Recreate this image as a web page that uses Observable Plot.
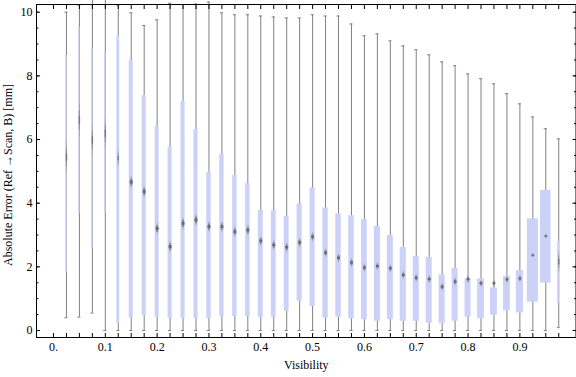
<!DOCTYPE html>
<html>
<head>
<meta charset="utf-8">
<script src="https://cdn.jsdelivr.net/npm/d3@7"></script>
<script src="https://cdn.jsdelivr.net/npm/@observablehq/plot@0.6"></script>
<style>
  html, body { margin: 0; padding: 0; background: white; }
</style>
</head>
<body>
<div id="chart"></div>
<script>
// ---- data ----
const visibility = [0.025, 0.05, 0.075, 0.1, 0.125, 0.15, 0.175, 0.2, 0.225, 0.25,
  0.275, 0.3, 0.325, 0.35, 0.375, 0.4, 0.425, 0.45, 0.475, 0.5,
  0.525, 0.55, 0.575, 0.6, 0.625, 0.65, 0.675, 0.7, 0.725, 0.75,
  0.775, 0.8, 0.825, 0.85, 0.875, 0.9, 0.925, 0.95, 0.975];
const whiskerLow = [0.40, 0.42, 0.55, 0.00, 0.00, 0.00, 0.00, 0.00, 0.00, 0.00,
  0.00, 0.00, 0.00, 0.00, 0.00, 0.00, 0.00, 0.00, 0.00, 0.00,
  0.00, 0.00, 0.00, 0.00, 0.00, 0.00, 0.00, 0.00, 0.00, 0.00,
  0.00, 0.00, 0.00, 0.00, 0.00, 0.00, 0.00, 0.00, 0.10];
const quartile1 = [1.83, 3.67, 2.57, 3.67, 0.23, 0.39, 0.47, 0.42, 0.37, 0.37,
  0.37, 0.37, 0.44, 0.44, 0.44, 0.42, 0.42, 0.60, 0.92, 0.75,
  0.39, 0.42, 0.36, 0.34, 0.29, 0.34, 0.29, 0.29, 0.23, 0.21,
  0.29, 0.42, 0.37, 0.48, 0.62, 0.55, 0.89, 1.49, 0.86];
const medianVal = [5.44, 6.60, 5.97, 6.18, 5.40, 4.65, 4.35, 3.19, 2.62, 3.35,
  3.46, 3.25, 3.25, 3.09, 3.14, 2.80, 2.67, 2.60, 2.75, 2.93,
  2.43, 2.27, 2.12, 1.96, 2.01, 1.94, 1.73, 1.64, 1.60, 1.36,
  1.52, 1.60, 1.47, 1.47, 1.59, 1.62, 2.35, 2.95, 2.15];
const quartile3 = [8.64, 9.53, 8.85, 8.69, 9.25, 8.48, 7.38, 6.41, 5.76, 7.19,
  6.31, 4.96, 5.53, 4.87, 4.61, 3.77, 3.77, 3.58, 3.98, 4.48,
  3.85, 3.67, 3.61, 3.48, 3.27, 2.98, 2.61, 2.32, 2.29, 1.75,
  1.95, 1.62, 1.62, 1.34, 1.70, 1.88, 3.51, 4.40, 2.80];
const whiskerHigh = [10.00, 10.22, 10.50, 10.50, 10.22, 9.98, 9.58, 9.76, 10.28, 10.24,
  10.26, 10.32, 9.98, 9.92, 9.92, 9.88, 9.85, 9.82, 9.82, 9.92,
  9.88, 9.88, 9.63, 9.26, 9.32, 9.10, 8.94, 8.82, 8.66, 8.44,
  8.32, 8.06, 7.91, 7.75, 7.44, 7.12, 6.71, 6.34, 6.02];
// relative sample weight (box width encodes it)
const sampleWeight = [0.4, 0.35, 0.4, 0.4, 0.7, 1.0, 1.0, 1.0, 1.0, 1.0,
  1.0, 1.1, 1.1, 1.1, 1.1, 1.2, 1.2, 1.2, 1.25, 1.25,
  1.35, 1.35, 1.35, 1.4, 1.5, 1.5, 1.5, 1.5, 1.5, 1.5,
  1.5, 1.5, 1.7, 1.7, 1.7, 1.75, 2.75, 2.6, 0.55];

const xTickValues = [0, 0.1, 0.2, 0.3, 0.4, 0.5, 0.6, 0.7, 0.8, 0.9];
const xTickLabels = ["0.", "0.1", "0.2", "0.3", "0.4", "0.5", "0.6", "0.7", "0.8", "0.9"];
const yTickValues = [0, 2, 4, 6, 8, 10];
const xLabel = "Visibility";
const yLabel = "Absolute Error (Ref \u2192Scan, B) [mm]";

// ---- derived tables ----
const boxes = visibility.map((v, i) => ({
  v, lo: whiskerLow[i], q1: quartile1[i], med: medianVal[i], q3: quartile3[i], hi: whiskerHigh[i], w: sampleWeight[i]
}));
const xMinor = d3.range(0, 40).map(k => k * 0.025);
const yMinor = d3.range(0, 21).map(k => k * 0.5);
const xLabelMap = new Map(xTickValues.map((d, i) => [d, xTickLabels[i]]));

const boxColor = "rgb(204,210,247)";
const whiskerColor = "#808080";
const half = d => d.w * 0.0039;
const mLen = d => Math.min(0.5, 0.185 / d.w);
const thin = d => d.w < 0.8;
const capW = 0.003;
const blank = () => "";

const chart = Plot.plot({
  width: 576,
  height: 377,
  marginLeft: 36,
  marginRight: 0.5,
  marginTop: 4,
  marginBottom: 40,
  style: "font-family: 'Liberation Serif', 'Times New Roman', serif; font-size: 12px; background: white; color: black;",
  x: { domain: [-0.0328, 1.0083] },
  y: { domain: [-0.22, 10.242] },
  marks: [
    // whiskers
    Plot.ruleX(boxes, { x: "v", y1: "lo", y2: "hi", stroke: whiskerColor, strokeWidth: 1 }),
    Plot.ruleY(boxes, { y: "lo", x1: d => d.v - capW, x2: d => d.v + capW, stroke: whiskerColor, strokeWidth: 1 }),
    Plot.ruleY(boxes, { y: "hi", x1: d => d.v - capW, x2: d => d.v + capW, stroke: whiskerColor, strokeWidth: 1 }),
    // boxes
    Plot.rect(boxes, { x1: d => d.v - half(d), x2: d => d.v + half(d), y1: "q1", y2: "q3", fill: boxColor }),
    // median markers (soft vertical diamonds)
    Plot.ruleX(boxes, { x: "v", y1: d => d.med - mLen(d), y2: d => d.med + mLen(d), stroke: "#9a9a9a", strokeWidth: 1, strokeOpacity: d => thin(d) ? 0.45 : 0.6 }),
    Plot.ruleX(boxes, { x: "v", y1: d => d.med - mLen(d) * 0.6, y2: d => d.med + mLen(d) * 0.6, stroke: "#808080", strokeWidth: d => thin(d) ? 1.2 : 2, strokeOpacity: d => thin(d) ? 0.55 : 0.8 }),
    Plot.ruleX(boxes, { x: "v", y1: d => d.med - mLen(d) * 0.25, y2: d => d.med + mLen(d) * 0.25, stroke: "#6a6a6a", strokeWidth: d => thin(d) ? 1.5 : 3, strokeOpacity: d => thin(d) ? 0.65 : 1 }),
    // frame
    Plot.frame({ stroke: "black" }),
    // axes: ticks pointing inward
    Plot.axisX(xMinor, { anchor: "bottom", tickSize: -4, tickFormat: blank, label: null }),
    Plot.axisX(xMinor, { anchor: "top", tickSize: -4, tickFormat: blank, label: null }),
    Plot.axisX(xTickValues, { anchor: "bottom", tickSize: 0, tickPadding: 5, tickFormat: d => xLabelMap.get(d), label: null, fontSize: 12 }),
    Plot.axisY(yMinor, { anchor: "left", tickSize: -2.5, tickFormat: blank, label: null }),
    Plot.axisY(yTickValues, { anchor: "left", tickSize: -4, tickPadding: 8, label: null, fontSize: 12 }),
    Plot.axisY(yMinor, { anchor: "right", tickSize: -2.5, tickFormat: blank, label: null }),
    Plot.axisY(yTickValues, { anchor: "right", tickSize: -4, tickFormat: blank, label: null }),
    // axis titles
    Plot.text([xLabel], { frameAnchor: "bottom", text: d => d, dy: 31, fontSize: 12 }),
    Plot.text([yLabel], { frameAnchor: "left", text: d => d, rotate: -90, textAnchor: "middle", dx: -28, dy: 4, fontSize: 12 })
  ]
});
document.getElementById("chart").appendChild(chart);
</script>
</body>
</html>
